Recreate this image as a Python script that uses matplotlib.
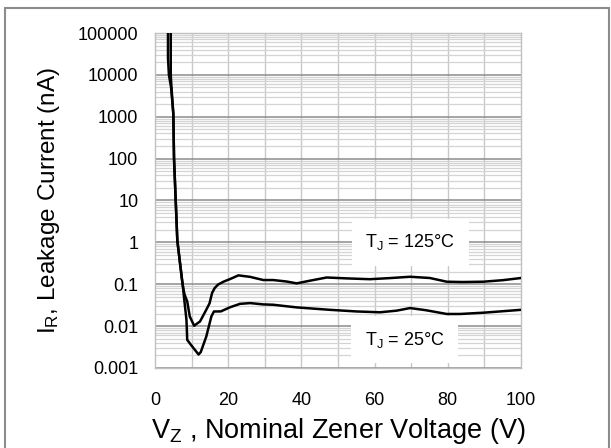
import numpy as np
import matplotlib
matplotlib.use("Agg")
import matplotlib.pyplot as plt
from matplotlib.patches import Rectangle

plt.rcParams["font.family"] = ["Liberation Sans", "DejaVu Sans"]
plt.rcParams["mathtext.fontset"] = "custom"
plt.rcParams["mathtext.rm"] = "Liberation Sans"
plt.rcParams["mathtext.it"] = "Liberation Sans"

# leakage current (nA) vs nominal zener voltage (V)
vz_125 = [3.55, 3.55, 3.55, 3.8, 4.4, 5.0, 5.2, 5.7, 6.1, 7.4, 7.7, 8.1, 8.8, 9.5, 10.7,
          11.6, 12.3, 14.0, 14.9, 15.6, 16.3, 17.2, 18.7, 20.5, 22.8, 26, 29.6, 32.3, 36,
          38.7, 42, 46.9, 52.4, 58.7, 64, 69.7, 75.1, 79.7, 84, 89.7, 95, 100]
ir_125 = [2e5, 25000, 25000, 10000, 5000, 1200, 100, 8, 1.1, 0.125, 0.08, 0.056, 0.039,
          0.017, 0.0102, 0.0117, 0.0129, 0.0245, 0.035, 0.062, 0.081, 0.098, 0.115, 0.133,
          0.163, 0.15, 0.126, 0.126, 0.116, 0.105, 0.12, 0.145, 0.138, 0.132, 0.14, 0.151,
          0.141, 0.115, 0.113, 0.115, 0.125, 0.141]

vz_25 = [4.3, 4.3, 4.5, 5.0, 5.2, 5.7, 6.1, 7.4, 7.7, 7.9, 8.6, 8.8, 9.9, 11.9, 12.5, 14.0,
         15.4, 16.1, 17.2, 18.0, 20.5, 23.2, 26, 29.6, 32.3, 38.7, 47.8, 55.1, 61.5, 66,
         69.7, 74, 79.7, 83.4, 90, 100]
ir_25 = [2e5, 10000, 5000, 1200, 100, 8, 1.1, 0.125, 0.08, 0.051, 0.014, 0.0047, 0.0035,
         0.0021, 0.0024, 0.0056, 0.017, 0.0224, 0.0224, 0.0225, 0.0282, 0.034, 0.0355,
         0.033, 0.0324, 0.028, 0.0245, 0.0224, 0.0214, 0.0234, 0.027, 0.024, 0.0195,
         0.0195, 0.021, 0.0245]

x_ticks = [0, 20, 40, 60, 80, 100]
y_ticks = [1e-3, 1e-2, 1e-1, 1, 10, 100, 1000, 1e4, 1e5]
y_labels = ["0.001", "0.01", "0.1", "1", "10", "100", "1000", "10000", "100000"]

fig = plt.figure(figsize=(6.11, 4.48), dpi=100)
ax = fig.add_axes([155 / 611, 1 - 368 / 448, 366 / 611, 335 / 448])

ax.set_yscale("log")
ax.set_xlim(0, 100)
ax.set_ylim(1e-3, 1e5)

# grid: light vertical every 10 V, darker decades, light minors
for v in range(10, 100, 10):
    ax.axvline(v, color="#c8c8c8", lw=1, zorder=1)
for dec in range(-3, 5):
    for m in range(2, 10):
        ax.axhline(m * 10.0 ** dec, color="#d4d4d4", lw=0.9, zorder=1)
for yt in y_ticks:
    ax.axhline(yt, color="#8c8c8c", lw=1.1, zorder=1)

ax.plot(vz_125, ir_125, color="black", lw=1.8, zorder=3, solid_joinstyle="round")
ax.plot(vz_25, ir_25, color="black", lw=1.8, zorder=3, solid_joinstyle="round")

ax.set_xticks(x_ticks)
ax.set_yticks(y_ticks)
ax.set_yticklabels(y_labels)
ax.yaxis.set_minor_locator(matplotlib.ticker.NullLocator())
ax.tick_params(length=0, labelsize=13)
ax.tick_params(axis="x", pad=17)
ax.tick_params(axis="y", pad=12)
for s in ax.spines.values():
    s.set_color("#c0c0c0")
    s.set_linewidth(1)

ax.set_xlabel("V$_\\mathregular{Z}$ , Nominal Zener Voltage (V)", fontsize=19.5, labelpad=5)
ax.set_ylabel("I$_\\mathregular{R}$, Leakage Current (nA)", fontsize=17.5, labelpad=11)

box = dict(boxstyle="square,pad=0.75", facecolor="white", edgecolor="none")
ax.text(69.7, 1.0, "T$_\\mathregular{J}$ = 125°C", fontsize=13, ha="center",
        va="center", bbox=box, zorder=4)
ax.text(68.3, 0.0047, "T$_\\mathregular{J}$ = 25°C", fontsize=13, ha="center",
        va="center", bbox=box, zorder=4)

# outer frame around the whole chart
fig.patches.append(Rectangle((4.5 / 611, -0.02), 604 / 611, 1 - 8.5 / 448 + 0.02,
                             transform=fig.transFigure, fill=False,
                             edgecolor="#8c8c8c", lw=1.5))

fig.savefig("out.png", dpi=100)
